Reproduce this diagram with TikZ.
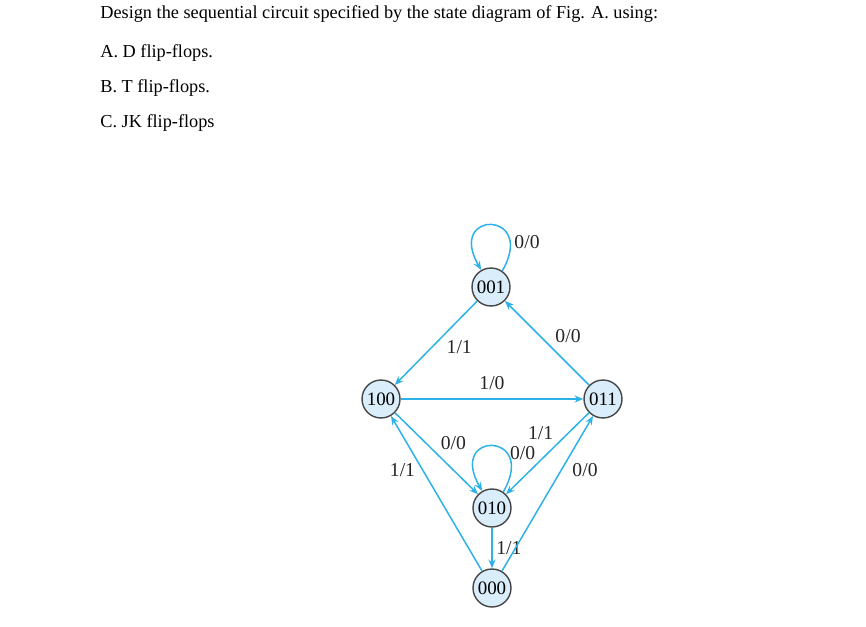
\documentclass[tikz,border=0pt]{standalone}
\usepackage{fontspec}
\setmainfont{Liberation Serif}
\usetikzlibrary{arrows.meta}
\definecolor{trcyan}{RGB}{45,178,232}
\definecolor{stfill}{RGB}{218,237,250}
\definecolor{stline}{RGB}{70,70,70}
\begin{document}
\begin{tikzpicture}[x=0.02cm, y=-0.02cm,
  state/.style={circle, draw=stline, line width=0.8pt, fill=stfill, minimum size=0.76cm, inner sep=0pt, font=\fontsize{10.8}{12}\selectfont},
  trans/.style={trcyan, line width=0.85pt, -{Stealth[length=5pt,width=4pt]}},
  lbl/.style={text=black!85, font=\fontsize{11.2}{12}\selectfont, inner sep=2pt},
  qline/.style={anchor=base west, inner sep=0pt, font=\fontsize{10.4}{12}\selectfont}]
  \useasboundingbox (0,0) rectangle (866,626);
  \node[qline] (q0) at (100,18) {Design the sequential circuit specified by the state diagram of Fig. A. using:};
  \node[qline] (qa) at (100,57) {A. D flip-flops.};
  \node[qline] (qb) at (100,92) {B. T flip-flops.};
  \node[qline] (qc) at (100,127) {C. JK flip-flops};
  \foreach \n/\px/\py in {001/491/287, 100/381/399, 011/603/399, 010/492/508, 000/492/588}{
    \node[state] (s\n) at (\px,\py) {\n};
  }
  \draw[trans] (s001.55) .. controls +(60:1.4cm) and +(120:1.4cm) .. (s001.120) node[lbl, pos=0.2, anchor=west] {0/0};
  \draw[trans] (s010.55) .. controls +(60:1.4cm) and +(120:1.4cm) .. (s010.120) node[lbl, pos=0.3, anchor=west, inner sep=1pt] {0/0};
  \draw[trans] (s001) -- (s100) node[lbl, pos=0.55, right=6pt] {1/1};
  \draw[trans] (s011) -- (s001) node[lbl, pos=0.45, above right=0pt] {0/0};
  \draw[trans] (s100) -- (s011) node[lbl, midway, above=3pt] {1/0};
  \draw[trans] (s100) -- (s010) node[lbl, pos=0.5, above right=0pt] {0/0};
  \draw[trans] (s011) -- (s010) node[lbl, pos=0.38, above left=0pt] {1/1};
  \draw[trans] (s010) -- (s000) node[lbl, midway, right=0pt] {1/1};
  \draw[trans] (s000) -- (s100) node[lbl, pos=0.65, left=2pt] {1/1};
  \draw[trans] (s000) -- (s011) node[lbl, pos=0.65, right=4pt] {0/0};
\end{tikzpicture}
\end{document}
